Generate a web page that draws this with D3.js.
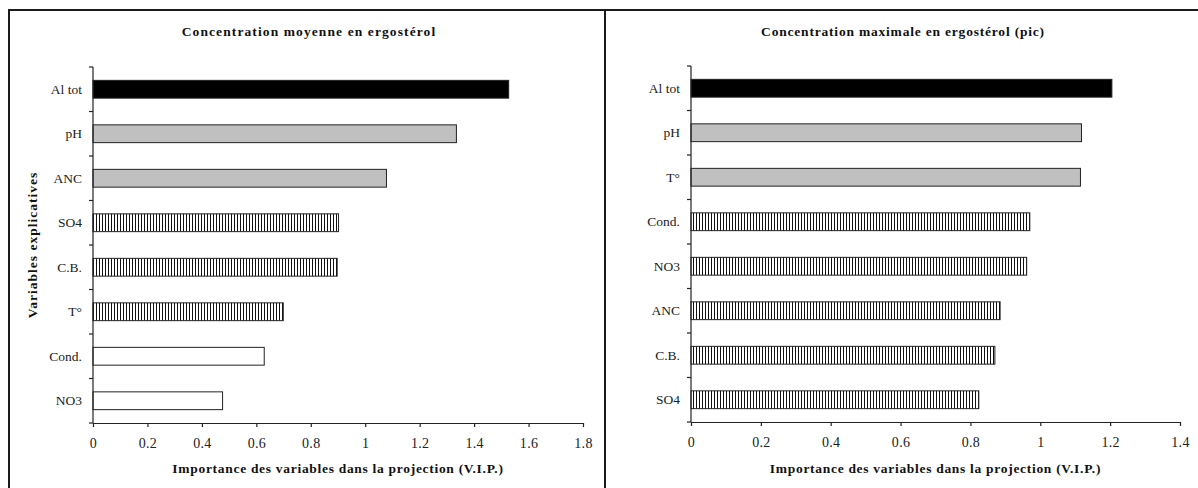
<!DOCTYPE html>
<html>
<head>
<meta charset="utf-8">
<script src="https://cdn.jsdelivr.net/npm/d3@7"></script>
<style>
  html, body { margin: 0; padding: 0; background: #fff; }
  svg { display: block; }
  text { font-family: "Liberation Serif", "Times New Roman", serif; fill: #111; }
</style>
</head>
<body>
<svg id="chart" width="1198" height="488"></svg>
<script>
// ---- Data ----
const leftTitle = "Concentration moyenne en ergostérol";
const leftCategories = ["Al tot", "pH", "ANC", "SO4", "C.B.", "T°", "Cond.", "NO3"];
const leftValues = [1.527, 1.335, 1.078, 0.902, 0.897, 0.699, 0.629, 0.476];
const leftGroups = ["black", "gray", "gray", "hatch", "hatch", "hatch", "white", "white"];
const leftTicks = [0, 0.2, 0.4, 0.6, 0.8, 1, 1.2, 1.4, 1.6, 1.8];

const rightTitle = "Concentration maximale en ergostérol (pic)";
const rightCategories = ["Al tot", "pH", "T°", "Cond.", "NO3", "ANC", "C.B.", "SO4"];
const rightValues = [1.205, 1.118, 1.115, 0.970, 0.961, 0.885, 0.870, 0.824];
const rightGroups = ["black", "gray", "gray", "hatch", "hatch", "hatch", "hatch", "hatch"];
const rightTicks = [0, 0.2, 0.4, 0.6, 0.8, 1, 1.2, 1.4];

const xAxisTitle = "Importance des variables dans la projection (V.I.P.)";
const yAxisTitle = "Variables explicatives";

// ---- Drawing ----
const svg = d3.select("#chart");
const defs = svg.append("defs");
const pat = defs.append("pattern")
  .attr("id", "vhatch").attr("patternUnits", "userSpaceOnUse")
  .attr("width", 3).attr("height", 6);
pat.append("rect").attr("width", 3).attr("height", 6).attr("fill", "#fff");
pat.append("line").attr("x1", 0.5).attr("x2", 0.5).attr("y1", 0).attr("y2", 6)
  .attr("stroke", "#111").attr("stroke-width", 1);

const fills = { black: "#000", gray: "#c0c0c0", hatch: "url(#vhatch)", white: "#fff" };

// frame
const frame = svg.append("g").attr("stroke", "#1a1a1a").attr("stroke-width", 2).attr("fill", "none");
frame.append("line").attr("x1", 8).attr("x2", 1198).attr("y1", 10).attr("y2", 10);
frame.append("line").attr("x1", 9).attr("x2", 9).attr("y1", 9).attr("y2", 488);
frame.append("line").attr("x1", 605).attr("x2", 605).attr("y1", 9).attr("y2", 488);

function panel(cfg) {
  const g = svg.append("g");
  const x = d3.scaleLinear().domain([cfg.ticks[0], cfg.ticks[cfg.ticks.length - 1]]).range(cfg.xr);
  const y = d3.scaleBand().domain(cfg.categories).range(cfg.yr).paddingInner(0.6).paddingOuter(0.3);

  // bars
  g.selectAll("rect.bar").data(cfg.categories).enter().append("rect")
    .attr("class", "bar")
    .attr("x", x(0))
    .attr("y", d => y(d))
    .attr("width", (d, i) => x(cfg.values[i]) - x(0))
    .attr("height", y.bandwidth())
    .attr("fill", (d, i) => fills[cfg.groups[i]])
    .attr("stroke", "#222").attr("stroke-width", 1);

  // x axis
  const xa = d3.axisBottom(x).tickValues(cfg.ticks).tickSize(4).tickSizeOuter(0).tickPadding(11)
    .tickFormat(d => String(d));
  const xg = g.append("g").attr("transform", `translate(0,${cfg.yr[1]})`).call(xa);
  xg.attr("font-family", null).attr("font-size", null);
  xg.selectAll("path, line").attr("stroke", "#222").attr("stroke-width", 1.2);
  xg.selectAll("text").style("font-family", '"Liberation Serif", "Times New Roman", serif')
    .style("font-size", "14px").style("fill", "#222").style("letter-spacing", "0.3px");

  // y axis line + ticks at band boundaries
  const x0 = x(0);
  g.append("line").attr("x1", x0).attr("x2", x0).attr("y1", cfg.yr[0]).attr("y2", cfg.yr[1])
    .attr("stroke", "#222").attr("stroke-width", 1.2);
  const bounds = d3.range(cfg.categories.length + 1).map(i => cfg.yr[0] + i * y.step());
  g.selectAll("line.ytick").data(bounds).enter().append("line")
    .attr("x1", x0 - 4).attr("x2", x0).attr("y1", d => d).attr("y2", d => d)
    .attr("stroke", "#222").attr("stroke-width", 1.2);

  // category labels
  g.selectAll("text.cat").data(cfg.categories).enter().append("text")
    .attr("x", x0 - 11).attr("y", d => y(d) + y.bandwidth() / 2)
    .attr("dy", "0.35em").attr("text-anchor", "end")
    .style("font-size", "13.5px").style("fill", "#222")
    .text(d => d);

  // title
  g.append("text").attr("x", cfg.titleX).attr("y", 36).attr("text-anchor", "middle")
    .style("font-size", "13.5px").style("font-weight", "bold").style("letter-spacing", cfg.titleSpacing)
    .text(cfg.title);

  // x axis title
  g.append("text").attr("x", (cfg.xr[0] + cfg.xr[1]) / 2).attr("y", 473).attr("text-anchor", "middle")
    .style("font-size", "13.5px").style("font-weight", "bold").style("letter-spacing", "0.7px")
    .text(xAxisTitle);

  if (cfg.yTitle) {
    g.append("text").attr("transform", `translate(37,${(cfg.yr[0] + cfg.yr[1]) / 2}) rotate(-90)`)
      .attr("text-anchor", "middle")
      .style("font-size", "13.5px").style("font-weight", "bold").style("letter-spacing", "1px")
      .text(cfg.yTitle);
  }
}

panel({
  title: leftTitle, titleX: 309, titleSpacing: "1.1px",
  categories: leftCategories, values: leftValues, groups: leftGroups, ticks: leftTicks,
  xr: [93, 583], yr: [67, 423], yTitle: yAxisTitle
});
panel({
  title: rightTitle, titleX: 903, titleSpacing: "0.8px",
  categories: rightCategories, values: rightValues, groups: rightGroups, ticks: rightTicks,
  xr: [691, 1180], yr: [66, 422], yTitle: null
});
</script>
</body>
</html>
